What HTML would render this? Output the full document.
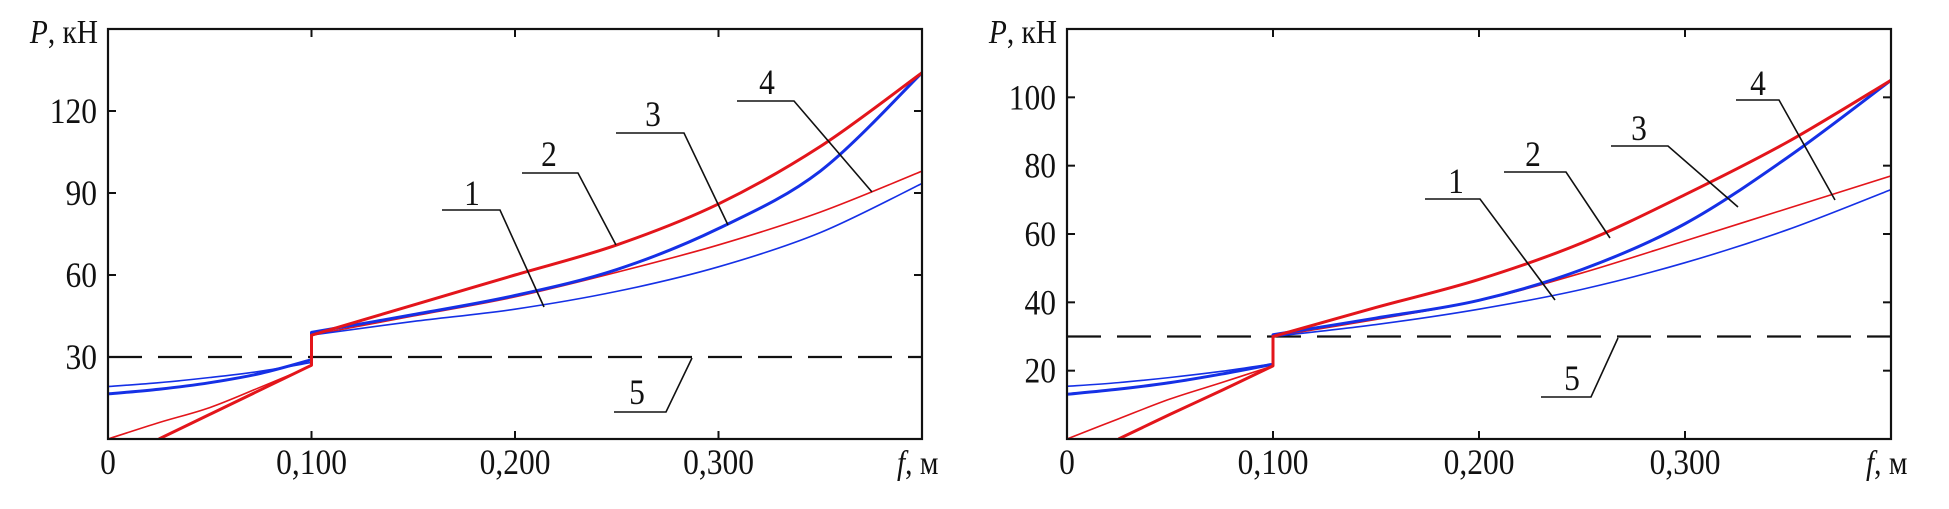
<!DOCTYPE html>
<html><head><meta charset="utf-8">
<style>
html,body{margin:0;padding:0;background:#fff;}
svg{display:block;}
text{font-family:"Liberation Serif",serif;fill:#111;}
</style></head>
<body>
<svg id="fig" width="1949" height="509" viewBox="0 0 1949 509" xmlns="http://www.w3.org/2000/svg"></svg>
<script>
// ---- data: left chart ----
const leftYTicks = [30, 60, 90, 120];
const leftYTickLabels = ["30", "60", "90", "120"];
const xTicks = [0, 0.1, 0.2, 0.3];
const xTickLabels = ["0", "0,100", "0,200", "0,300"];
const lowX = [0, 0.025, 0.05, 0.075, 0.1];
const highX = [0.1, 0.15, 0.2, 0.25, 0.3, 0.35, 0.4];
const left1Low = [0, 6, 11.5, 19, 26.7];
const left1High = [38, 45, 52, 61, 71, 83, 98];
const left2Low = [null, 0, 9, 18, 27];
const left2High = [38, 49, 60, 71, 86, 107, 134];
const left3Low = [16.5, 18.2, 20.6, 24, 29];
const left3High = [39, 45.5, 52.5, 62, 77, 98, 134];
const left4Low = [19.2, 20.6, 22.5, 24.8, 28];
const left4High = [38, 43, 47.5, 54, 63, 75.5, 93.5];
const leftDashed = 30;
// ---- data: right chart ----
const rightYTicks = [20, 40, 60, 80, 100];
const rightYTickLabels = ["20", "40", "60", "80", "100"];
const right1Low = [0, 5.9, 11.7, 16.5, 21.4];
const right1High = [30, 35, 40.5, 48.6, 58, 67.5, 77];
const right2Low = [null, 0, 7.2, 14.2, 21.4];
const right2High = [30, 38.5, 46.7, 57.4, 71.5, 87, 105];
const right3Low = [13.1, 14.6, 16.5, 19, 21.9];
const right3High = [30.5, 35.4, 40.6, 49.6, 63, 82.5, 105];
const right4Low = [15.4, 16.5, 18, 19.8, 22];
const right4High = [30, 33.5, 38, 43.8, 51.6, 61.3, 73];
const rightDashed = 30;

const NS = "http://www.w3.org/2000/svg";
const svg = document.getElementById("fig");
const RED = "#e3151b", BLUE = "#1530e6";

function mk(tag, attrs, parent) {
  const e = document.createElementNS(NS, tag);
  for (const k in attrs) e.setAttribute(k, attrs[k]);
  (parent || svg).appendChild(e);
  return e;
}
function txt(str, x, y, anchor, parent, size) {
  const t = mk("text", {x: 0, y: 0, "font-size": size || 30, "text-anchor": anchor,
    transform: "translate(" + x + "," + y + ") scale(1.05,1.2)"}, parent);
  t.textContent = str;
  return t;
}
function smoothPath(pts) {
  let d = "M" + pts[0][0].toFixed(2) + "," + pts[0][1].toFixed(2);
  for (let i = 0; i < pts.length - 1; i++) {
    const p0 = pts[i - 1] || pts[i], p1 = pts[i], p2 = pts[i + 1], p3 = pts[i + 2] || p2;
    const c1 = [p1[0] + (p2[0] - p0[0]) / 6, p1[1] + (p2[1] - p0[1]) / 6];
    const c2 = [p2[0] - (p3[0] - p1[0]) / 6, p2[1] - (p3[1] - p1[1]) / 6];
    d += " C" + c1.map(v => v.toFixed(2)).join(",") + " " + c2.map(v => v.toFixed(2)).join(",") + " " + p2[0].toFixed(2) + "," + p2[1].toFixed(2);
  }
  return d;
}

function chart(cfg) {
  const g = mk("g", {});
  
  
  const L = cfg.left, R = cfg.right, T = 29, B = 439;
  const sx = v => L + (v / 0.4) * (R - L);
  const sy = v => B - (v / cfg.ymax) * (B - T);
  const clip = "clip-" + cfg.name;
  const cp = mk("clipPath", {id: clip}, g);
  mk("rect", {x: L, y: T, width: R - L, height: B - T}, cp);

  const dl = mk("line", {x1: L, x2: R, y1: sy(cfg.dashed), y2: sy(cfg.dashed), stroke: "#111", "stroke-width": 2.2, "stroke-dasharray": "34,16"}, g);
  
  

  cfg.series.forEach(s => {
    const lowPts = [], highPts = [];
    lowX.forEach((x, i) => { if (s.low[i] !== null) lowPts.push([sx(x), sy(s.low[i])]); });
    highX.forEach((x, i) => highPts.push([sx(x), sy(s.high[i])]));
    const d = smoothPath(lowPts) + " L" + highPts[0][0].toFixed(2) + "," + highPts[0][1].toFixed(2) + " " + smoothPath(highPts).replace(/^M[^C]*/, "");
    const p = mk("path", {d: d, fill: "none", stroke: s.color, "stroke-width": s.w, "stroke-linejoin": "round", "clip-path": "url(#" + clip + ")"}, g);
    
    
  });

  const fr = mk("rect", {x: L, y: T, width: R - L, height: B - T, fill: "none", stroke: "#111", "stroke-width": 2.2}, g);
  
  

  cfg.yTicks.forEach((v, i) => {
    mk("line", {x1: L, x2: L + 8, y1: sy(v), y2: sy(v), stroke: "#111", "stroke-width": 2}, g);
    mk("line", {x1: R, x2: R - 8, y1: sy(v), y2: sy(v), stroke: "#111", "stroke-width": 2}, g);
    const t = txt(cfg.yLabels[i], L - 11, sy(v) + 12, "end", g);
    
    
  });
  xTicks.forEach((v, i) => {
    mk("line", {x1: sx(v), x2: sx(v), y1: B, y2: B - 8, stroke: "#111", "stroke-width": 2}, g);
    mk("line", {x1: sx(v), x2: sx(v), y1: T, y2: T + 8, stroke: "#111", "stroke-width": 2}, g);
    const t = txt(xTickLabels[i], sx(v), 474, "middle", g);
    
    
  });
  const yt = mk("text", {x: 0, y: 0, "font-size": 28, "text-anchor": "end", transform: "translate(" + (L - 10) + ",43) scale(1.05,1.2)"}, g);
  yt.innerHTML = '<tspan font-style="italic">P</tspan>, кН';
  
  
  const xt = mk("text", {x: 0, y: 0, "font-size": 28, transform: "translate(" + (R - 25) + ",474) scale(1.05,1.2)"}, g);
  xt.innerHTML = '<tspan font-style="italic">f</tspan>, м';
  
  

  cfg.callouts.forEach(c => {
    const cg = mk("g", {}, g);
    
    
    mk("polyline", {points: c.hx1 + "," + c.hy + " " + c.hx2 + "," + c.hy + " " + c.ex + "," + c.ey, fill: "none", stroke: "#111", "stroke-width": 1.6}, cg);
    txt(String(c.n), c.tx, c.ty, "middle", cg, 30);
  });
}

chart({
  name: "left-chart", left: 108, right: 922, ymax: 150, dashed: leftDashed,
  yTicks: leftYTicks, yLabels: leftYTickLabels,
  series: [
    {name: "curve-1", low: left1Low, high: left1High, color: RED, w: 1.6},
    {name: "curve-4", low: left4Low, high: left4High, color: BLUE, w: 1.6},
    {name: "curve-3", low: left3Low, high: left3High, color: BLUE, w: 3},
    {name: "curve-2", low: left2Low, high: left2High, color: RED, w: 3}
  ],
  callouts: [
    {n: 1, tx: 472, ty: 205, hx1: 442, hx2: 500, hy: 210, ex: 544, ey: 307},
    {n: 2, tx: 549, ty: 166, hx1: 522, hx2: 578, hy: 173, ex: 616, ey: 245},
    {n: 3, tx: 653, ty: 126, hx1: 616, hx2: 684, hy: 133, ex: 728, ey: 225},
    {n: 4, tx: 767, ty: 94, hx1: 737, hx2: 794, hy: 101, ex: 872, ey: 192},
    {n: 5, tx: 637, ty: 404, hx1: 614, hx2: 666, hy: 412, ex: 692, ey: 358}
  ]
});
chart({
  name: "right-chart", left: 1067, right: 1891, ymax: 120, dashed: rightDashed,
  yTicks: rightYTicks, yLabels: rightYTickLabels,
  series: [
    {name: "curve-1", low: right1Low, high: right1High, color: RED, w: 1.6},
    {name: "curve-4", low: right4Low, high: right4High, color: BLUE, w: 1.6},
    {name: "curve-3", low: right3Low, high: right3High, color: BLUE, w: 3},
    {name: "curve-2", low: right2Low, high: right2High, color: RED, w: 3}
  ],
  callouts: [
    {n: 1, tx: 1456, ty: 193, hx1: 1425, hx2: 1480, hy: 199, ex: 1555, ey: 300},
    {n: 2, tx: 1533, ty: 166, hx1: 1504, hx2: 1566, hy: 172, ex: 1610, ey: 238},
    {n: 3, tx: 1639, ty: 140, hx1: 1611, hx2: 1668, hy: 146, ex: 1738, ey: 207},
    {n: 4, tx: 1758, ty: 95, hx1: 1736, hx2: 1779, hy: 100, ex: 1835, ey: 200},
    {n: 5, tx: 1572, ty: 390, hx1: 1541, hx2: 1591, hy: 397, ex: 1618, ey: 338}
  ]
});
</script>
</body></html>
